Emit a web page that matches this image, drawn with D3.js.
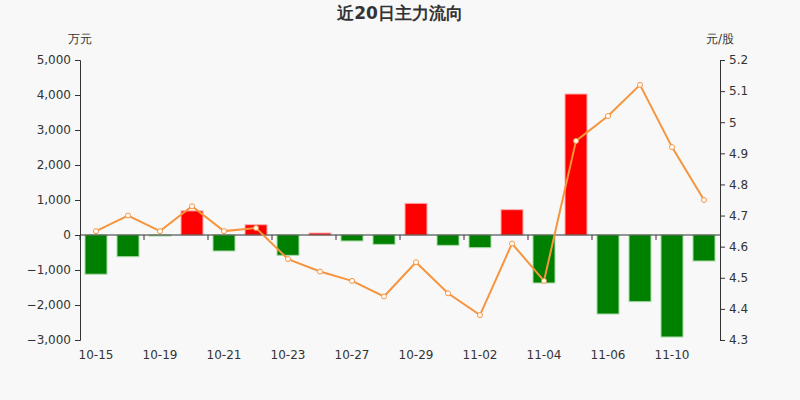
<!DOCTYPE html>
<html>
<head>
<meta charset="utf-8">
<script src="https://cdn.jsdelivr.net/npm/d3@7/dist/d3.min.js"></script>
<style>
  html, body { margin: 0; padding: 0; background: #f8f8f8; }
  svg { display: block; font-family: "DejaVu Sans", sans-serif; }
</style>
</head>
<body>
<script>
// dates of the last 20 trading days
const dates = ["10-15", "10-16", "10-19", "10-20", "10-21", "10-22", "10-23", "10-26", "10-27", "10-28",
  "10-29", "10-30", "11-02", "11-03", "11-04", "11-05", "11-06", "11-09", "11-10", "11-11"];

// main net inflow, 万元
const flows = [-1120, -620, -20, 690, -457, 294, -581, 57, -171, -267,
  905, -295, -362, 724, -1371, 4029, -2257, -1905, -2914, -743];

// close price, 元/股
const prices = [4.65, 4.70, 4.65, 4.73, 4.65, 4.66, 4.56, 4.52, 4.49, 4.44,
  4.55, 4.45, 4.38, 4.61, 4.49, 4.94, 5.02, 5.12, 4.92, 4.75];

const leftTicks = [-3000, -2000, -1000, 0, 1000, 2000, 3000, 4000, 5000];
const rightTicks = [4.3, 4.4, 4.5, 4.6, 4.7, 4.8, 4.9, 5.0, 5.1, 5.2];

const w = 800;
const h = 400;
const margin = { top: 60, right: 80, bottom: 60, left: 80 };

const svg = d3.select("body")
  .append("svg")
  .attr("width", w)
  .attr("height", h);

svg.append("rect")
  .attr("width", w)
  .attr("height", h)
  .attr("fill", "#f8f8f8");

// scales
const x = d3.scaleBand()
  .domain(dates)
  .range([margin.left, w - margin.right])
  .paddingInner(0.3)
  .paddingOuter(0.15);

const xPoint = d3.scaleBand()
  .domain(dates)
  .range([margin.left, w - margin.right]);

const yLeft = d3.scaleLinear()
  .domain([-3000, 5000])
  .range([h - margin.bottom, margin.top]);

const yRight = d3.scaleLinear()
  .domain([4.3, 5.2])
  .range([h - margin.bottom, margin.top]);

// title and units
svg.append("text")
  .attr("x", w / 2)
  .attr("y", 19)
  .attr("text-anchor", "middle")
  .attr("font-size", 17)
  .attr("font-weight", "bold")
  .attr("fill", "#333")
  .text("近20日主力流向");

svg.append("text")
  .attr("x", margin.left)
  .attr("y", 43)
  .attr("text-anchor", "middle")
  .attr("font-size", 12)
  .attr("fill", "#333")
  .text("万元");

svg.append("text")
  .attr("x", w - margin.right)
  .attr("y", 43)
  .attr("text-anchor", "middle")
  .attr("font-size", 12)
  .attr("fill", "#333")
  .text("元/股");

// bars
svg.selectAll(".bar")
  .data(flows)
  .enter()
  .append("rect")
  .attr("class", "bar")
  .attr("x", (d, i) => xPoint(dates[i]) + (xPoint.bandwidth() - 22) / 2)
  .attr("width", 22)
  .attr("y", d => d >= 0 ? yLeft(d) : yLeft(0))
  .attr("height", d => Math.max(1, Math.abs(yLeft(d) - yLeft(0))))
  .attr("fill", d => d >= 0 ? "#ff0000" : "#008000")
  .attr("stroke", d => d >= 0 ? "#ffb0b0" : "#a8dca8")
  .attr("stroke-width", 1);

// left axis
const leftAxis = d3.axisLeft(yLeft)
  .tickValues(leftTicks)
  .tickSize(5)
  .tickPadding(4)
  .tickFormat(d3.format(","));

svg.append("g")
  .attr("transform", `translate(${margin.left},0)`)
  .call(leftAxis)
  .call(g => g.selectAll("path, line").attr("stroke", "#333"))
  .call(g => g.selectAll("text").attr("font-size", 12).attr("fill", "#333").attr("font-family", "DejaVu Sans"));

// right axis
const rightAxis = d3.axisRight(yRight)
  .tickValues(rightTicks)
  .tickSize(5)
  .tickPadding(4)
  .tickFormat(d => d3.format("")(+d.toFixed(1)));

svg.append("g")
  .attr("transform", `translate(${w - margin.right},0)`)
  .call(rightAxis)
  .call(g => g.selectAll("path, line").attr("stroke", "#333"))
  .call(g => g.selectAll("text").attr("font-size", 12).attr("fill", "#333").attr("font-family", "DejaVu Sans"));

// bottom axis at zero line, labels at the bottom
const zeroY = yLeft(0);
svg.append("line")
  .attr("x1", margin.left)
  .attr("x2", w - margin.right)
  .attr("y1", zeroY)
  .attr("y2", zeroY)
  .attr("stroke", "#333");

const labelled = dates.filter((d, i) => i % 2 === 0);

svg.selectAll(".xtick")
  .data(labelled)
  .enter()
  .append("line")
  .attr("class", "xtick")
  .attr("x1", d => xPoint(d))
  .attr("x2", d => xPoint(d))
  .attr("y1", zeroY)
  .attr("y2", zeroY + 5)
  .attr("stroke", "#333");

svg.selectAll(".xlabel")
  .data(labelled)
  .enter()
  .append("text")
  .attr("class", "xlabel")
  .attr("x", d => xPoint(d) + xPoint.bandwidth() / 2)
  .attr("y", h - margin.bottom + 19)
  .attr("text-anchor", "middle")
  .attr("font-size", 12)
  .attr("fill", "#333")
  .text(d => d);

// price line
const line = d3.line()
  .x((d, i) => xPoint(dates[i]) + xPoint.bandwidth() / 2)
  .y(d => yRight(d));

svg.append("path")
  .datum(prices)
  .attr("d", line)
  .attr("fill", "none")
  .attr("stroke", "#f7943e")
  .attr("stroke-width", 2);

svg.selectAll(".dot")
  .data(prices)
  .enter()
  .append("circle")
  .attr("class", "dot")
  .attr("cx", (d, i) => xPoint(dates[i]) + xPoint.bandwidth() / 2)
  .attr("cy", d => yRight(d))
  .attr("r", 2.5)
  .attr("fill", "#fff")
  .attr("stroke", "#f7943e")
  .attr("stroke-width", 1);
</script>
</body>
</html>
